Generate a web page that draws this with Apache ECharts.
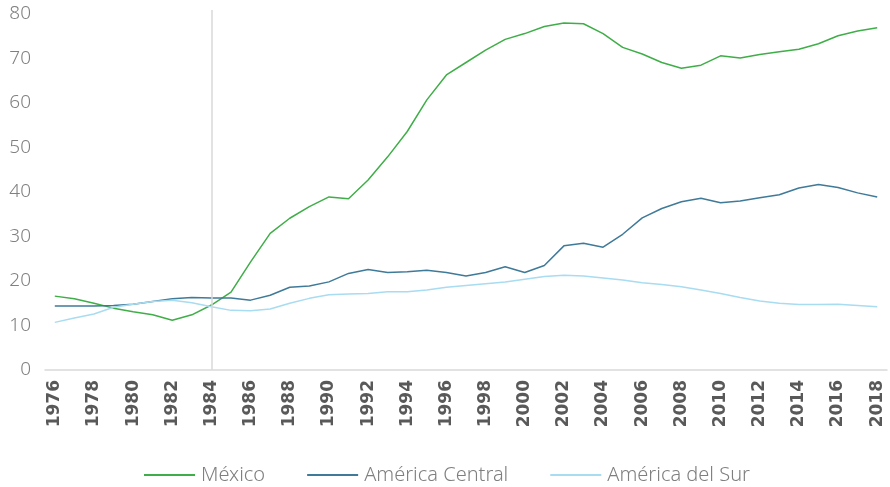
<!DOCTYPE html>
<html>
<head>
<meta charset="utf-8">
<script src="https://cdn.jsdelivr.net/npm/echarts@6/dist/echarts.min.js"></script>
<style>
html,body{margin:0;padding:0;background:#fff;}
#c{width:890px;height:487px;}
</style>
</head>
<body>
<div id="c"></div>
<script>
const years = [];
for (let y = 1976; y <= 2018; y++) years.push(String(y));

const mexico = [16.6,16.0,15.0,13.9,13.1,12.4,11.2,12.4,14.6,17.5,24.3,30.7,34.1,36.7,38.9,38.5,42.7,47.9,53.6,60.7,66.3,69.1,71.9,74.3,75.6,77.2,78.0,77.8,75.6,72.5,71.0,69.1,67.8,68.5,70.6,70.1,70.9,71.5,72.1,73.3,75.1,76.2,76.9];
const centralAm = [14.4,14.4,14.4,14.5,14.8,15.4,16.0,16.3,16.2,16.2,15.7,16.8,18.6,18.9,19.8,21.7,22.6,21.9,22.1,22.4,21.9,21.1,21.9,23.2,21.9,23.5,27.9,28.5,27.6,30.5,34.2,36.3,37.8,38.6,37.6,38.0,38.7,39.4,40.9,41.7,41.0,39.8,38.9];
const southAm = [10.7,11.7,12.6,14.1,14.8,15.4,15.7,15.1,14.2,13.4,13.3,13.7,15.0,16.1,16.9,17.1,17.2,17.6,17.6,18.0,18.6,19.0,19.4,19.8,20.4,21.0,21.3,21.1,20.7,20.2,19.6,19.2,18.7,18.0,17.2,16.3,15.5,15.0,14.7,14.7,14.8,14.5,14.2];
const seriesNames = ['México','América Central','América del Sur'];
const markYear = '1984';

const chart = echarts.init(document.getElementById('c'), null, {renderer:'canvas'});
const colors = ['#3fae48','#3f7a99','#a8dcf1'];
function mk(name, data, color, withMark){
  const s = {
    name: name, type: 'line', data: data, symbol: 'none', smooth: false,
    lineStyle: {color: color, width: 1.5}, itemStyle: {color: color},
    animation: false
  };
  if (withMark) {
    s.markLine = {
      silent: true, symbol: 'none', label: {show: false},
      lineStyle: {color: '#d9d9d9', width: 1.5, type: 'solid'},
      data: [[{xAxis: markYear, y: 10}, {xAxis: markYear, yAxis: 0}]]
    };
  }
  return s;
}
chart.setOption({
  animation: false,
  grid: {left: 45, right: 3, top: 14, bottom: 117, containLabel: false},
  legend: {
    left: 139, top: 460, itemWidth: 51, itemHeight: 2, itemGap: 42,
    icon: 'rect',
    textStyle: {color: '#7f7f7f', fontSize: 20, fontWeight: 300, fontFamily: 'Noto Sans', padding: [0,0,0,1]},
    data: seriesNames
  },
  xAxis: {
    type: 'category', data: years, boundaryGap: true,
    axisLine: {lineStyle: {color: '#d9d9d9', width: 1.5}},
    axisTick: {show: false},
    axisLabel: {
      interval: 1, rotate: 90, color: '#595959', fontSize: 17, fontWeight: 'bold',
      fontFamily: 'DejaVu Sans', margin: 10
    },
    splitLine: {show: false}
  },
  yAxis: {
    type: 'value', min: 0, max: 80, interval: 10,
    axisLine: {show: false}, axisTick: {show: false},
    splitLine: {show: false},
    axisLabel: {color: '#808080', fontSize: 19, fontWeight: 300, fontFamily: 'Noto Sans', margin: 14}
  },
  series: [
    mk(seriesNames[0], mexico, colors[0], true),
    mk(seriesNames[1], centralAm, colors[1], false),
    mk(seriesNames[2], southAm, colors[2], false)
  ]
});
</script>
</body>
</html>
